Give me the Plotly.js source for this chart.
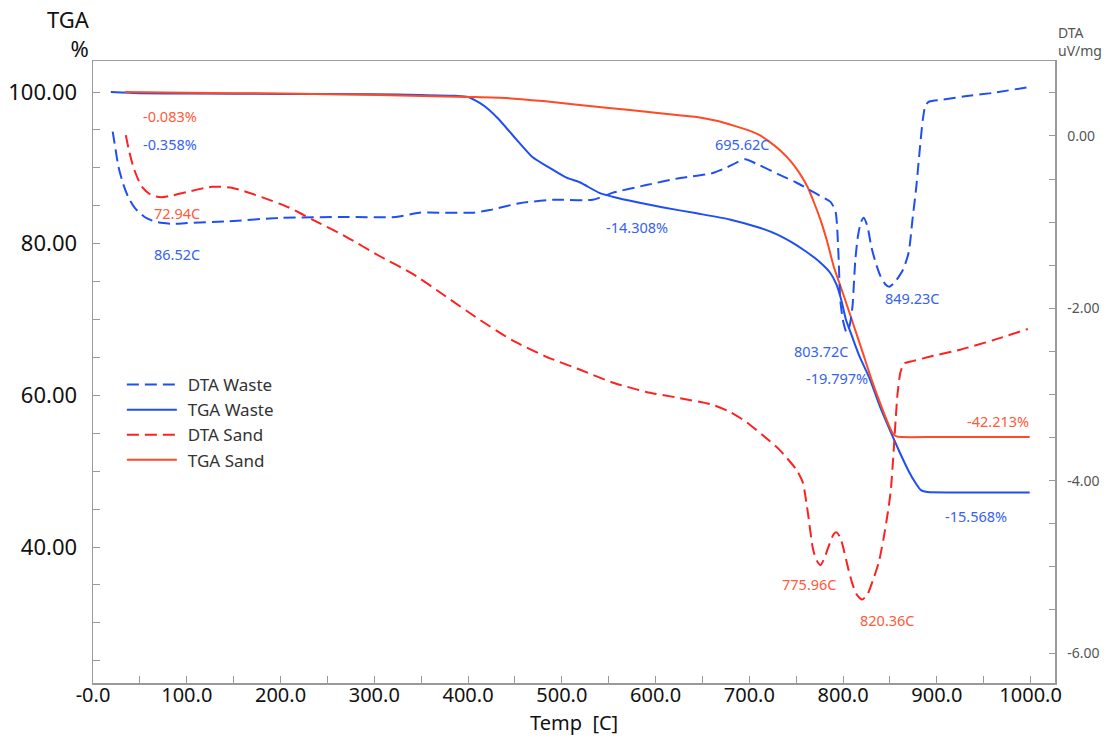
<!DOCTYPE html>
<html>
<head>
<meta charset="utf-8">
<script src="https://cdn.plot.ly/plotly-3.0.1.min.js"></script>
<style>
  html, body { margin: 0; padding: 0; background: #fff; }
  #chart { width: 1107px; height: 738px; }
</style>
</head>
<body>
<div id="chart"></div>
<script>
// Thermal analysis run: TGA mass (%) on the left axis, DTA signal (uV/mg) on the right.

// TGA, waste sample
const tgaWasteTemp = [19, 50, 100, 200, 300, 350, 387, 400, 412, 422, 432, 447, 469, 487, 505, 519, 540, 554, 583, 607, 644, 679, 711, 730, 745, 760, 775, 786, 793, 798, 803, 808, 813, 818, 828, 840, 850, 860, 870, 877, 883, 890, 920, 960, 999];
const tgaWasteMass = [100.0, 99.85, 99.8, 99.75, 99.7, 99.6, 99.5, 99.35, 98.6, 97.7, 96.5, 94.4, 91.4, 90.0, 88.7, 88.1, 86.7, 86.2, 85.4, 84.8, 84.0, 83.2, 82.1, 81.2, 80.2, 79.0, 77.6, 76.2, 74.6, 72.6, 70.0, 68.3, 66.6, 65.0, 62.3, 58.3, 55.4, 52.6, 50.0, 48.5, 47.5, 47.25, 47.2, 47.2, 47.2];

// TGA, sand sample
const tgaSandTemp = [34, 100, 200, 305, 400, 441, 480, 519, 550, 590, 620, 644, 665, 685, 700, 711, 722, 733, 744, 753, 762, 770, 776, 783, 790, 800, 810, 820, 830, 840, 848, 853, 857, 862, 900, 950, 999];
const tgaSandMass = [100.0, 99.9, 99.8, 99.6, 99.35, 99.2, 98.8, 98.3, 97.9, 97.4, 97.0, 96.7, 96.2, 95.5, 94.9, 94.3, 93.4, 92.3, 90.9, 89.4, 87.5, 85.1, 83.1, 80.3, 77.0, 73.4, 69.7, 66.0, 62.2, 58.8, 56.3, 55.0, 54.6, 54.5, 54.5, 54.5, 54.5];

// DTA, waste sample
const dtaWasteTemp = [21, 24, 27, 32, 38, 45, 55, 65, 75, 86.52, 100, 145, 199, 270, 323, 348, 369, 405, 423, 455, 490, 533, 554, 590, 625, 661, 675, 688, 695.62, 711, 730, 750, 765, 778, 787, 792, 795, 797, 800, 803.72, 807, 810, 813, 816, 819, 822, 826, 830, 835, 840, 845, 849.23, 855, 864, 870, 874, 878, 881, 885, 888, 892, 905, 930, 960, 999];
const dtaWasteSignal = [0.05, -0.15, -0.35, -0.55, -0.72, -0.84, -0.94, -0.99, -1.01, -1.02, -1.01, -0.99, -0.95, -0.94, -0.94, -0.89, -0.89, -0.89, -0.86, -0.78, -0.74, -0.74, -0.66, -0.57, -0.49, -0.43, -0.37, -0.30, -0.27, -0.34, -0.44, -0.54, -0.63, -0.71, -0.77, -0.88, -1.36, -1.90, -2.15, -2.28, -2.20, -1.98, -1.44, -1.15, -1.00, -0.95, -1.05, -1.28, -1.48, -1.63, -1.72, -1.75, -1.70, -1.55, -1.35, -0.97, -0.60, -0.25, 0.19, 0.36, 0.40, 0.42, 0.46, 0.50, 0.57];

// DTA, sand sample
const dtaSandTemp = [35, 38, 43, 48, 53, 60, 66, 72.94, 85, 100, 127, 148, 180, 209, 234, 270, 305, 341, 376, 412, 447, 483, 519, 554, 590, 625, 661, 679, 697, 714, 732, 750, 757, 762, 768, 772, 775.96, 780, 785, 790, 793, 797, 800, 805, 810, 815, 820.36, 826, 832, 838, 843, 848, 851, 854, 856, 858, 861, 865, 875, 893, 925, 960, 997];
const dtaSandSignal = [0.01, -0.15, -0.36, -0.50, -0.60, -0.67, -0.70, -0.71, -0.69, -0.65, -0.59, -0.60, -0.71, -0.83, -0.97, -1.17, -1.39, -1.60, -1.86, -2.13, -2.37, -2.56, -2.71, -2.86, -2.97, -3.04, -3.12, -3.20, -3.32, -3.47, -3.64, -3.87, -4.02, -4.34, -4.80, -4.93, -4.98, -4.90, -4.75, -4.62, -4.60, -4.66, -4.77, -5.00, -5.20, -5.33, -5.38, -5.32, -5.15, -4.95, -4.68, -4.35, -4.10, -3.64, -3.30, -3.00, -2.75, -2.64, -2.61, -2.56, -2.48, -2.37, -2.24];

// Axis ticks
const tempTicks = [0, 100, 200, 300, 400, 500, 600, 700, 800, 900, 1000];
const tempTickText = ["-0.0", "100.0", "200.0", "300.0", "400.0", "500.0", "600.0", "700.0", "800.0", "900.0", "1000.0"];
const tgaTicks = [40, 60, 80, 100];
const tgaTickText = ["40.00", "60.00", "80.00", "100.00"];
const dtaTicks = [0, -2, -4, -6];
const dtaTickText = ["0.00", "-2.00", "-4.00", "-6.00"];

// Peak temperatures and step losses written on the chart
const notes = [
  { text: "-0.083%",  x: 82,  y: 96.84, c: "sand" },
  { text: "-0.358%",  x: 82,  y: 93.14, c: "waste" },
  { text: "72.94C",   x: 89.6, y: 84.05, c: "sand" },
  { text: "86.52C",   x: 89.6, y: 78.64, c: "waste" },
  { text: "695.62C",  x: 692.6, y: 93.14, c: "waste" },
  { text: "-14.308%", x: 580.6, y: 82.2, c: "waste" },
  { text: "849.23C",  x: 874, y: 72.84, c: "waste" },
  { text: "803.72C",  x: 777, y: 65.85, c: "waste" },
  { text: "-19.797%", x: 794, y: 62.29, c: "waste" },
  { text: "-42.213%", x: 964.8, y: 56.62, c: "sand" },
  { text: "-15.568%", x: 941.3, y: 44.1, c: "waste" },
  { text: "775.96C",  x: 764, y: 35.14, c: "sand" },
  { text: "820.36C",  x: 847.4, y: 30.39, c: "sand" }
];

const BLUE = "#1f4ff2";
const RED = "#ff2020";
const ORANGE = "#ff4a24";
const NOTE_BLUE = "#3563f0";
const NOTE_RED = "#ff5a3a";
const AXIS = "#9a9a9a";
const FONT = "Noto Sans, Open Sans, sans-serif";

const traces = [
  { name: "DTA Waste", x: dtaWasteTemp, y: dtaWasteSignal, yaxis: "y2", type: "scatter", mode: "lines",
    line: { color: BLUE, width: 2, dash: "12px,6px", shape: "spline", smoothing: 0.6 } },
  { name: "TGA Waste", x: tgaWasteTemp, y: tgaWasteMass, yaxis: "y", type: "scatter", mode: "lines",
    line: { color: BLUE, width: 2, shape: "spline", smoothing: 0.6 } },
  { name: "DTA Sand", x: dtaSandTemp, y: dtaSandSignal, yaxis: "y2", type: "scatter", mode: "lines",
    line: { color: RED, width: 2, dash: "12px,6px", shape: "spline", smoothing: 0.6 } },
  { name: "TGA Sand", x: tgaSandTemp, y: tgaSandMass, yaxis: "y", type: "scatter", mode: "lines",
    line: { color: ORANGE, width: 2, shape: "spline", smoothing: 0.6 } }
];

const annotations = notes.map(n => ({
  text: n.text, x: n.x, y: n.y, xref: "x", yref: "y",
  showarrow: false, xanchor: "center", yanchor: "middle",
  font: { family: FONT, size: 14.5, color: n.c === "sand" ? NOTE_RED : NOTE_BLUE }
}));

// Axis captions
annotations.push(
  { text: "TGA<br>%", xref: "paper", yref: "paper", x: -0.001, y: 1.0442, xanchor: "right", yanchor: "middle",
    align: "right", showarrow: false, font: { family: FONT, size: 22, color: "#111" } },
  { text: "DTA<br>uV/mg", xref: "paper", yref: "paper", x: 1.001, y: 1.032, xanchor: "left", yanchor: "middle",
    align: "left", showarrow: false, font: { family: FONT, size: 14, color: "#555" } },
  { text: "Temp  [C]", xref: "paper", yref: "paper", x: 0.5, y: -0.064, xanchor: "center", yanchor: "middle",
    showarrow: false, font: { family: FONT, size: 20, color: "#111" } }
);

const layout = {
  width: 1107, height: 738,
  margin: { l: 93, r: 52, t: 61, b: 55, pad: 0 },
  paper_bgcolor: "#fff", plot_bgcolor: "#fff",
  font: { family: FONT, color: "#111" },
  showlegend: true,
  legend: {
    x: 0.03, y: 0.508, xanchor: "left", yanchor: "top",
    bgcolor: "rgba(0,0,0,0)", borderwidth: 0, tracegroupgap: 0,
    itemwidth: 56,
    font: { family: FONT, size: 17, color: "#333" }
  },
  xaxis: {
    range: [0, 1026], showgrid: false, zeroline: false,
    showline: true, linecolor: AXIS, linewidth: 1.5, mirror: true,
    tickmode: "array", tickvals: tempTicks, ticktext: tempTickText,
    ticks: "inside", ticklen: 7, tickcolor: AXIS, tickwidth: 1,
    ticklabelstandoff: -7,
    tickfont: { family: FONT, size: 20, color: "#111" },
    minor: { dtick: 50, tick0: 0, ticks: "inside", ticklen: 7, tickcolor: AXIS, showgrid: false }
  },
  yaxis: {
    range: [22.07, 104.09], showgrid: false, zeroline: false,
    showline: true, linecolor: AXIS, linewidth: 1.5, mirror: true,
    tickmode: "array", tickvals: tgaTicks, ticktext: tgaTickText,
    ticks: "inside", ticklen: 7, tickcolor: AXIS, tickwidth: 1,
    ticklabelstandoff: 10,
    tickfont: { family: FONT, size: 22, color: "#111" },
    minor: { dtick: 5, tick0: 0, ticks: "inside", ticklen: 7, tickcolor: AXIS, showgrid: false }
  },
  yaxis2: {
    overlaying: "y", side: "right",
    range: [-6.348, 0.870], showgrid: false, zeroline: false,
    showline: true, linecolor: AXIS, linewidth: 1.5,
    tickmode: "array", tickvals: dtaTicks, ticktext: dtaTickText,
    ticks: "inside", ticklen: 6, tickcolor: AXIS, tickwidth: 1,
    ticklabelstandoff: 8,
    tickfont: { family: FONT, size: 14, color: "#555" },
    minor: { dtick: 0.5, tick0: 0, ticks: "inside", ticklen: 6, tickcolor: AXIS, showgrid: false }
  },
  annotations: annotations
};

Plotly.newPlot("chart", traces, layout, { displayModeBar: false, staticPlot: true }).then(gd => {
  // Longer legend swatches so the dash pattern reads clearly
  gd.querySelectorAll(".legend .legendlines path").forEach(p => p.setAttribute("d", "M5,0h50"));
});
</script>
</body>
</html>
